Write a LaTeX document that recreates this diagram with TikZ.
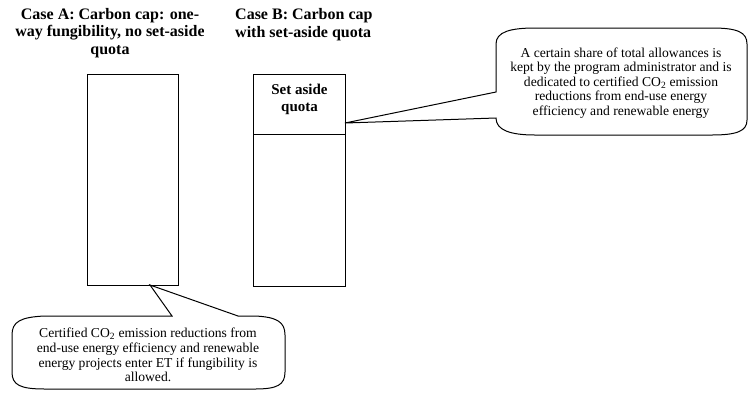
\documentclass[tikz,border=0pt]{standalone}
\usepackage{fontspec}
\setmainfont{Liberation Serif}
\begin{document}
\begin{tikzpicture}[x=1pt,y=-1pt,
  title/.style={font=\bfseries\fontsize{16}{17.5}\selectfont, inner sep=0},
  ctext/.style={font=\fontsize{13.6}{14.6}\selectfont, align=center, inner sep=0},
  box/.style={draw, line width=0.8pt, inner sep=0},
  bubble/.style={draw, line width=1pt, line join=miter}]
\useasboundingbox (0,0) rectangle (751,392);
% titles
\begin{scope}
  \clip (0,0) rectangle (203,62);
  \node[title, align=center] (titleA) at (110,33) {Case A: Carbon cap: one-\\way fungibility, no set-aside\\quota};
\end{scope}
\begin{scope}
  \clip (220,0) rectangle (379,62);
  \node[title, align=left, anchor=west] (titleB) at (235,24.5) {Case B: Carbon cap\\with set-aside quota};
\end{scope}
% boxes
\node[box, minimum width=91pt, minimum height=211pt, anchor=north west] (boxA) at (87,74) {};
\node[box, minimum width=92pt, minimum height=60pt, anchor=north west] (quota) at (253,74) {};
\node[box, minimum width=92pt, minimum height=152pt, anchor=north west] (rest) at (253,134) {};
\node[title, align=center, font=\bfseries\fontsize{15}{17}\selectfont] (quotatext) at (299.5,99.5) {Set aside\\quota};
% right callout
\coordinate (tipB) at (345,123);
\draw[bubble] (tipB) -- (496,92) -- (496,44) .. controls (496,32) and (510,28) .. (535,28)
  -- (712,28) .. controls (737,28) and (747,32) .. (747,44)
  -- (747,120) .. controls (747,131) and (737,135) .. (712,135)
  -- (535,135) .. controls (510,135) and (496,130) .. (496,118) -- cycle;
\node[ctext] (noteB) at (621,83) {A certain share of total allowances is\\kept by the program administrator and is\\dedicated to certified CO\textsubscript{2} emission\\reductions from end-use energy\\efficiency and renewable energy};
% bottom callout
\coordinate (tipA) at (150,285);
\draw[bubble] (tipA) -- (238,316) -- (255,316) .. controls (277,317) and (285,322) .. (285,335)
  -- (285,372) .. controls (285,385) and (277,389) .. (255,389)
  -- (45,389) .. controls (20,389) and (12,385) .. (12,372)
  -- (12,335) .. controls (12,322) and (20,317) .. (45,316) -- (172,316) -- cycle;
\node[ctext] (noteA) at (148,355) {Certified CO\textsubscript{2} emission reductions from\\end-use energy efficiency and renewable\\energy projects enter ET if fungibility is\\allowed.};
\end{tikzpicture}
\end{document}
